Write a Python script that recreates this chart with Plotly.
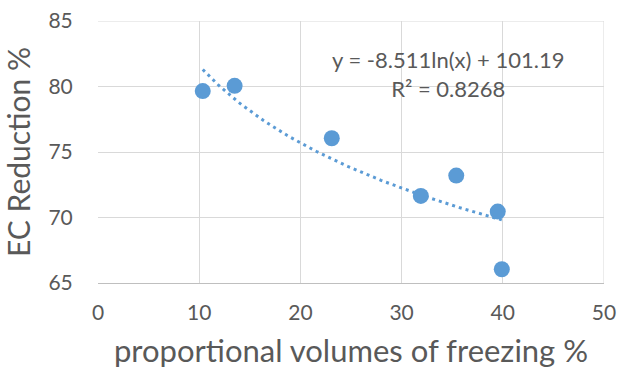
import numpy as np
import plotly.graph_objects as go

x_vals = [10.35, 13.5, 23.1, 31.9, 35.4, 39.5, 39.9]
y_vals = [79.65, 80.05, 76.05, 71.65, 73.2, 70.45, 66.05]
trend_a = -8.511
trend_b = 101.19
r2 = 0.8268
x_ticks = [0, 10, 20, 30, 40, 50]
y_ticks = [65, 70, 75, 80, 85]

blue = "#5B9BD5"
gray = "#595959"
font_family = "Lato, 'Open Sans', sans-serif"

xt = np.linspace(min(x_vals), max(x_vals), 100)
yt = trend_a * np.log(xt) + trend_b

fig = go.Figure()
fig.add_trace(go.Scatter(x=xt, y=yt, mode="lines",
                         line=dict(color=blue, width=3, dash="3px,4px"),
                         hoverinfo="skip", showlegend=False))
fig.add_trace(go.Scatter(x=x_vals, y=y_vals, mode="markers",
                         marker=dict(color=blue, size=16), showlegend=False))

fig.add_annotation(x=0.692, y=0.796, xref="paper", yref="paper",
                   xanchor="center", yanchor="middle",
                   text=f"y = {trend_a}ln(x) + {trend_b}<br>R² = {r2}",
                   showarrow=False, align="center",
                   font=dict(family=font_family, size=22, color=gray))

fig.update_layout(
    width=619, height=377,
    margin=dict(l=98, r=15, t=21, b=94, autoexpand=False),
    paper_bgcolor="white", plot_bgcolor="white",
    font=dict(family=font_family, color=gray),
    xaxis=dict(range=[0, 50], tickvals=x_ticks, showgrid=True,
               gridcolor="#d9d9d9", gridwidth=1, zeroline=False,
               showline=True, linecolor="#bfbfbf", linewidth=1,
               tickfont=dict(size=21, color=gray),
               ticks="outside", ticklen=11, tickcolor="rgba(0,0,0,0)",
               automargin=False,
               title=dict(text="proportional volumes of freezing %",
                          font=dict(size=31, color=gray), standoff=17)),
    yaxis=dict(range=[65, 85], tickvals=y_ticks, showgrid=True,
               gridcolor="#d9d9d9", gridwidth=1, zeroline=False,
               showline=False, automargin=False,
               tickfont=dict(size=21, color=gray),
               ticks="outside", ticklen=20, tickcolor="rgba(0,0,0,0)",
               title=dict(text="EC Reduction %",
                          font=dict(size=30, color=gray), standoff=8)),
)
fig.add_shape(type="line", xref="x", yref="paper", x0=50, x1=50, y0=0, y1=1,
              line=dict(color="#d9d9d9", width=1))
fig.add_shape(type="line", xref="paper", yref="y", x0=0, x1=1, y0=85, y1=85,
              line=dict(color="#d9d9d9", width=1))

fig.write_html("out.html", config={"displayModeBar": False},
               post_script="document.body.style.margin='0';document.body.style.padding='0';")
